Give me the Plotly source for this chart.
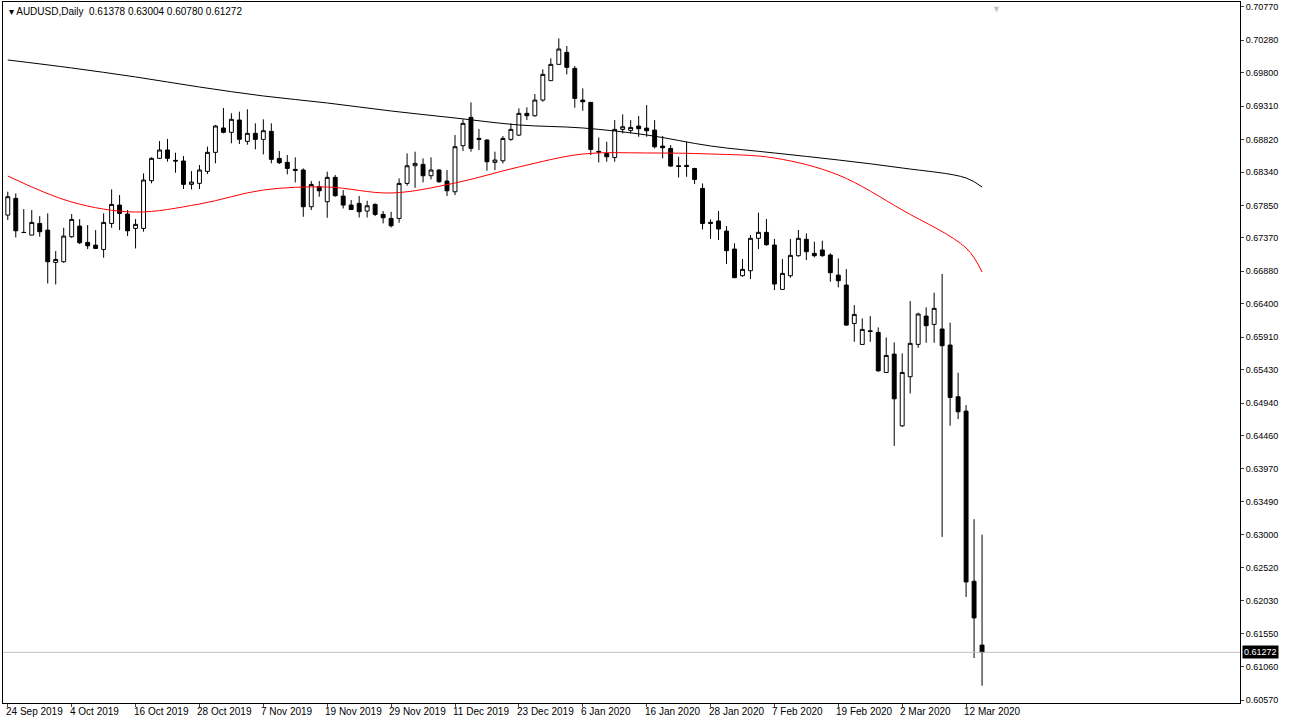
import pandas as pd
import plotly.graph_objects as go

# trading days shown (holidays 25 Dec / 1 Jan have no bar)
dates = [d for d in pd.bdate_range("2019-09-24", "2020-03-16")
         if d.strftime("%m-%d") not in ("12-25", "01-01")]
x = [d.strftime("%Y-%m-%d") for d in dates]

opens = [0.67707, 0.67953, 0.67452, 0.67412, 0.67584, 0.67486, 0.67010, 0.67020, 0.67388, 0.67545,
         0.67305, 0.67265, 0.67201, 0.67584, 0.67854, 0.67722, 0.67511, 0.67511, 0.68213, 0.68542,
         0.68665, 0.68512, 0.68503, 0.68159, 0.68174, 0.68350, 0.68630, 0.68989, 0.68925, 0.69106,
         0.68792, 0.68910, 0.68821, 0.68939, 0.68541, 0.68483, 0.68379, 0.68370, 0.67830, 0.68124,
         0.67903, 0.68262, 0.67987, 0.67854, 0.67879, 0.67766, 0.67864, 0.67717, 0.67658, 0.67658,
         0.68173, 0.68433, 0.68453, 0.68286, 0.68370, 0.68208, 0.68050, 0.68728, 0.69145, 0.68836,
         0.68812, 0.68483, 0.68506, 0.68821, 0.68884, 0.69204, 0.69169, 0.69400, 0.69685, 0.69925,
         0.70102, 0.69866, 0.69400, 0.69366, 0.68644, 0.68614, 0.68555, 0.68968, 0.68953, 0.69017,
         0.68987, 0.68958, 0.68722, 0.68688, 0.68433, 0.68438, 0.68393, 0.68099, 0.67600, 0.67620,
         0.67472, 0.67207, 0.66815, 0.66888, 0.67365, 0.67453, 0.67266, 0.66613, 0.66815, 0.67109,
         0.67350, 0.67144, 0.67193, 0.67119, 0.66824, 0.66677, 0.66112, 0.65803, 0.66004, 0.65980,
         0.65391, 0.65661, 0.64605, 0.65328, 0.65804, 0.66221, 0.66098, 0.66030, 0.65794, 0.65033,
         0.64822, 0.62318, 0.61378]
highs = [0.68051, 0.68026, 0.67795, 0.67781, 0.67692, 0.67732, 0.67177, 0.67520, 0.67722, 0.67648,
         0.67560, 0.67486, 0.67732, 0.68085, 0.68002, 0.67781, 0.67648, 0.68321, 0.68556, 0.68797,
         0.68827, 0.68625, 0.68576, 0.68355, 0.68444, 0.68714, 0.69033, 0.69283, 0.69205, 0.69229,
         0.69264, 0.69057, 0.69116, 0.69057, 0.68649, 0.68591, 0.68556, 0.68394, 0.68208, 0.68208,
         0.68345, 0.68296, 0.68075, 0.67928, 0.67987, 0.67918, 0.67879, 0.67766, 0.67756, 0.68247,
         0.68615, 0.68640, 0.68541, 0.68556, 0.68380, 0.68370, 0.68885, 0.69116, 0.69366, 0.68974,
         0.68820, 0.68640, 0.68870, 0.69056, 0.69277, 0.69292, 0.69488, 0.69852, 0.70014, 0.70308,
         0.70195, 0.69901, 0.69572, 0.69370, 0.68850, 0.68786, 0.69105, 0.69189, 0.69105, 0.69164,
         0.69326, 0.69105, 0.68870, 0.68737, 0.68565, 0.68786, 0.68403, 0.68172, 0.67644, 0.67767,
         0.67546, 0.67291, 0.67060, 0.67414, 0.67743, 0.67649, 0.67355, 0.67060, 0.67355, 0.67487,
         0.67438, 0.67315, 0.67330, 0.67144, 0.67070, 0.66913, 0.66382, 0.66186, 0.66220, 0.66053,
         0.65906, 0.65833, 0.65671, 0.66442, 0.66270, 0.66349, 0.66565, 0.66840, 0.66123, 0.65387,
         0.64910, 0.63231, 0.63004]
lows = [0.67633, 0.67378, 0.67452, 0.67412, 0.67388, 0.66700, 0.66686, 0.67005, 0.67373, 0.67280,
        0.67206, 0.67206, 0.67079, 0.67520, 0.67486, 0.67398, 0.67216, 0.67462, 0.68174, 0.68532,
        0.68493, 0.68331, 0.68090, 0.68085, 0.68090, 0.68311, 0.68468, 0.68910, 0.68763, 0.68753,
        0.68743, 0.68674, 0.68600, 0.68468, 0.68458, 0.68306, 0.68188, 0.67682, 0.67780, 0.67977,
        0.67667, 0.67977, 0.67805, 0.67780, 0.67672, 0.67672, 0.67692, 0.67584, 0.67525, 0.67594,
        0.68139, 0.68109, 0.68188, 0.68232, 0.68183, 0.67987, 0.68001, 0.68649, 0.68640, 0.68664,
        0.68360, 0.68370, 0.68467, 0.68801, 0.68870, 0.69105, 0.69155, 0.69375, 0.69685, 0.69925,
        0.69778, 0.69287, 0.69243, 0.68590, 0.68482, 0.68492, 0.68492, 0.68909, 0.68909, 0.68860,
        0.68860, 0.68688, 0.68541, 0.68418, 0.68261, 0.68271, 0.68163, 0.67495, 0.67355, 0.67340,
        0.66986, 0.66785, 0.66800, 0.66765, 0.67207, 0.67256, 0.66603, 0.66613, 0.66785, 0.67094,
        0.67045, 0.67085, 0.67094, 0.66726, 0.66643, 0.66078, 0.65842, 0.65803, 0.65842, 0.65400,
        0.65391, 0.64310, 0.64590, 0.65082, 0.65755, 0.65828, 0.65828, 0.62971, 0.64606, 0.64704,
        0.62087, 0.61188, 0.60780]
closes = [0.67977, 0.67476, 0.67450, 0.67599, 0.67462, 0.67020, 0.67054, 0.67398, 0.67643, 0.67300,
          0.67255, 0.67216, 0.67599, 0.67864, 0.67732, 0.67476, 0.67570, 0.68223, 0.68542, 0.68665,
          0.68542, 0.68503, 0.68159, 0.68193, 0.68370, 0.68630, 0.69018, 0.68925, 0.69116, 0.68822,
          0.68910, 0.68821, 0.68949, 0.68527, 0.68478, 0.68394, 0.68365, 0.67830, 0.68158, 0.68065,
          0.68262, 0.67992, 0.67854, 0.67790, 0.67756, 0.67844, 0.67717, 0.67667, 0.67550, 0.68173,
          0.68433, 0.68468, 0.68286, 0.68370, 0.68198, 0.68065, 0.68713, 0.69057, 0.68689, 0.68821,
          0.68492, 0.68517, 0.68835, 0.68968, 0.69204, 0.69169, 0.69400, 0.69778, 0.69925, 0.70151,
          0.69881, 0.69424, 0.69375, 0.68673, 0.68634, 0.68565, 0.68968, 0.69007, 0.68997, 0.68978,
          0.68948, 0.68712, 0.68698, 0.68428, 0.68423, 0.68423, 0.68231, 0.67583, 0.67585, 0.67502,
          0.67183, 0.66785, 0.66908, 0.67365, 0.67453, 0.67271, 0.66692, 0.66849, 0.67114, 0.67365,
          0.67168, 0.67109, 0.67109, 0.66859, 0.66741, 0.66088, 0.66245, 0.66024, 0.65995, 0.65415,
          0.65641, 0.65003, 0.65391, 0.65819, 0.66251, 0.66079, 0.66334, 0.65784, 0.65023, 0.64812,
          0.62308, 0.61778, 0.61272]

# moving averages read at every 8th bar plus the last one
ma_idx = [0, 8, 16, 24, 32, 40, 48, 56, 64, 72, 80, 88, 96, 104, 112, 120, 122]
ma_black = [0.69990, 0.69872, 0.69740, 0.69592, 0.69460, 0.69357, 0.69239, 0.69136, 0.69033,
            0.68989, 0.68886, 0.68724, 0.68621, 0.68518, 0.68400, 0.68253, 0.68120]
ma_red = [0.68282, 0.67899, 0.67752, 0.67870, 0.68076, 0.68120, 0.68032, 0.68179, 0.68415,
          0.68606, 0.68621, 0.68606, 0.68547, 0.68297, 0.67782, 0.67222, 0.66869]

ytick_vals = [0.70770, 0.70280, 0.69800, 0.69310, 0.68820, 0.68340, 0.67850, 0.67370, 0.66880,
              0.66400, 0.65910, 0.65430, 0.64940, 0.64460, 0.63970, 0.63490, 0.63000, 0.62520,
              0.62030, 0.61550, 0.61060, 0.60570]
last_price = 0.61272

FONT = "Liberation Sans"

fig = go.Figure()
fig.add_trace(go.Candlestick(
    x=x, open=opens, high=highs, low=lows, close=closes,
    increasing=dict(line=dict(color="black", width=1), fillcolor="white"),
    decreasing=dict(line=dict(color="black", width=1), fillcolor="black"),
    whiskerwidth=0, showlegend=False, hoverinfo="skip"
))
fig.add_trace(go.Scatter(x=[x[i] for i in ma_idx], y=ma_black, mode="lines",
                         line=dict(color="black", width=1, shape="spline"), showlegend=False))
fig.add_trace(go.Scatter(x=[x[i] for i in ma_idx], y=ma_red, mode="lines",
                         line=dict(color="red", width=1, shape="spline"), showlegend=False))

fig.add_hline(y=last_price, line=dict(color="#c0c0c0", width=1))

annotations = []
for i in range(0, len(x), 8):
    d = dates[i]
    annotations.append(dict(x=x[i], y=0, yref="paper", yanchor="top", xanchor="left",
                            xshift=-4, yshift=-1, showarrow=False,
                            text=f"{d.day} {d.strftime('%b %Y')}",
                            font=dict(family=FONT, size=10, color="black")))
annotations.append(dict(x=0.003, y=0.997, xref="paper", yref="paper", xanchor="left",
                        yanchor="top", showarrow=False,
                        text="▾ AUDUSD,Daily  0.61378 0.63004 0.60780 0.61272",
                        font=dict(family=FONT, size=10, color="black")))
annotations.append(dict(x=0.803, y=1.0, xref="paper", yref="paper", xanchor="center",
                        yanchor="top", showarrow=False, text="▼",
                        font=dict(family=FONT, size=9, color="#c0c0c0")))
annotations.append(dict(x=1.0, y=last_price, xref="paper", xanchor="left", showarrow=False,
                        text="0.61272", bgcolor="black", xshift=2, borderpad=1,
                        font=dict(family=FONT, size=9, color="white")))

fig.update_layout(
    width=1292, height=726,
    margin=dict(l=3, r=52, t=2, b=23),
    paper_bgcolor="white", plot_bgcolor="white",
    annotations=annotations,
    xaxis=dict(type="category", range=[-0.6, 154.3], rangeslider=dict(visible=False),
               showticklabels=False, showgrid=False, showline=True, linecolor="black",
               mirror=True, ticks="outside", ticklen=3,
               tickvals=[x[i] for i in range(0, len(x), 8)]),
    yaxis=dict(side="right", range=[0.60526, 0.70843], tickvals=ytick_vals,
               ticktext=[f"{v:.5f}" for v in ytick_vals], showgrid=False,
               showline=True, linecolor="black", mirror=True, ticks="outside",
               ticklen=3, tickfont=dict(family=FONT, size=9, color="black")),
)

fig.write_html("out.html", config={"displayModeBar": False},
               post_script="document.body.style.margin='0';")
